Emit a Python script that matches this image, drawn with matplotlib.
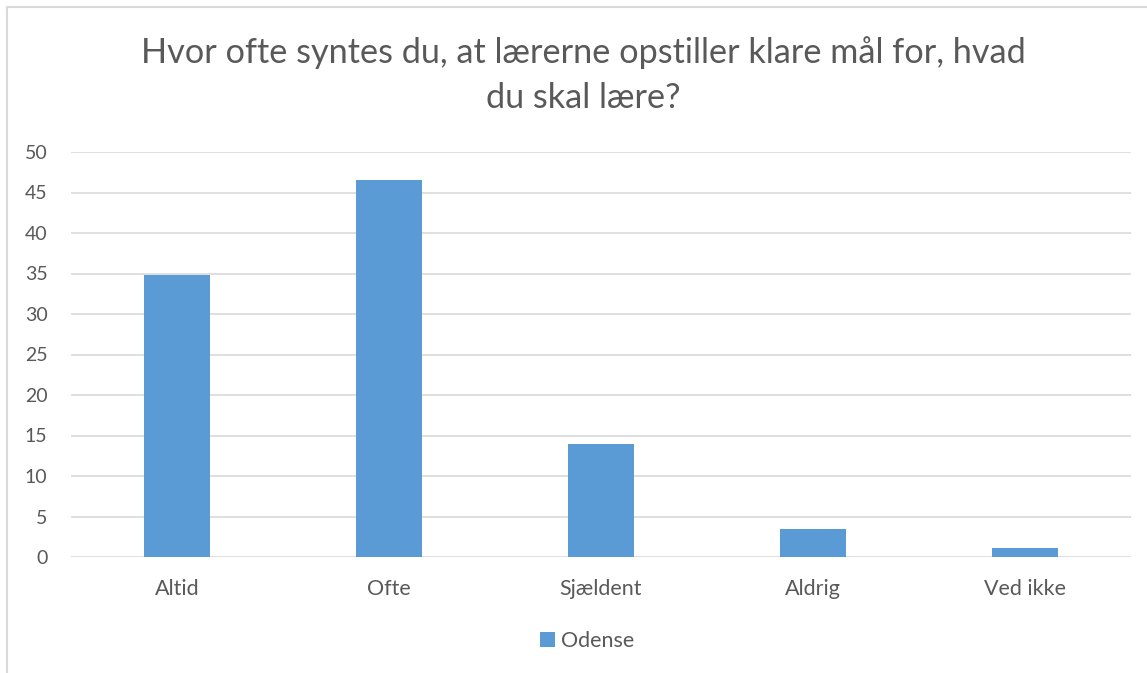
import matplotlib
matplotlib.use("Agg")
import matplotlib.pyplot as plt
from matplotlib.lines import Line2D
from matplotlib.patches import Patch

categories = ["Altid", "Ofte", "Sjældent", "Aldrig", "Ved ikke"]
values = [34.8, 46.6, 13.9, 3.4, 1.1]
series_name = "Odense"
title = "Hvor ofte syntes du, at lærerne opstiller klare mål for, hvad\ndu skal lære?"
yticks = [0, 5, 10, 15, 20, 25, 30, 35, 40, 45, 50]

W, H = 1147, 673
fig = plt.figure(figsize=(W / 100, H / 100), dpi=100)
plt.rcParams['font.family'] = ['Lato', 'DejaVu Sans']

ax = fig.add_axes([71 / W, 1 - 557 / H, (1131 - 71) / W, (557 - 152) / H])
x = list(range(len(categories)))
ax.bar(x, values, width=0.31, color="#5b9bd5", zorder=3, label=series_name)
ax.set_xlim(-0.5, len(categories) - 0.5)
ax.set_ylim(0, 50)
ax.set_yticks(yticks)
ax.set_xticks(x)
ax.set_xticklabels(categories)
ax.grid(axis="y", color="#d9d9d9", linewidth=1.2, zorder=0)
for s in ax.spines.values():
    s.set_visible(False)
ax.tick_params(axis="both", length=0, colors="#595959", labelsize=14)
ax.tick_params(axis="x", pad=16, labelsize=15.5)
ax.tick_params(axis="y", pad=17)

fig.text(583 / W, 1 - 75 / H, title, ha="center", va="center", fontsize=24.7,
         color="#595959", linespacing=1.5)

handles = [Patch(facecolor="#5b9bd5", edgecolor="none", label=series_name)]
fig.legend(handles=handles, loc="center", bbox_to_anchor=(587 / W, 1 - 641 / H),
           frameon=False, fontsize=15.5, labelcolor="#595959",
           handlelength=0.7, handleheight=0.7, handletextpad=0.3)

# chart frame (top and left visible)
fig.add_artist(Line2D([7 / W, 7 / W], [0, 1 - 7 / H], transform=fig.transFigure, color="#d9d9d9", lw=1.5))
fig.add_artist(Line2D([7 / W, 1], [1 - 7 / H, 1 - 7 / H], transform=fig.transFigure, color="#d9d9d9", lw=1.5))

fig.savefig("out.png", dpi=100)
